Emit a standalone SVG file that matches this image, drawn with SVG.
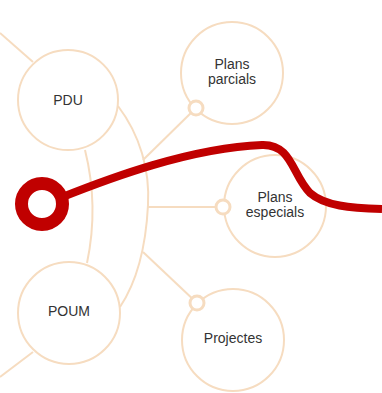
<svg xmlns="http://www.w3.org/2000/svg" width="382" height="393" viewBox="0 0 382 393">
<style>
.c{fill:#fff;stroke:#f6dcc0;stroke-width:2}
.s{fill:#fff;stroke:#f6dcc0;stroke-width:3}
.l{fill:none;stroke:#f6dcc0;stroke-width:2}
.t{font-family:"Liberation Sans",Arial,sans-serif;font-size:14px;fill:#333;text-anchor:middle}
</style>
<rect width="382" height="393" fill="#fff"/>
<g id="connectors">
<path class="l" d="M0,33 L33,62"/>
<path class="l" d="M0,377 L33,352"/>
<path class="l" d="M85,150 Q99,206 87,263"/>
<path class="l" d="M118,106 C140,135 150,170 148,205 C146,245 138,280 120,307"/>
<path class="l" d="M143,160 L196,108"/>
<path class="l" d="M148,207 L223,207"/>
<path class="l" d="M143,252 L197,303"/>
</g>
<g id="pdu"><circle class="c" cx="68" cy="100" r="50"/><text class="t" x="68" y="105">PDU</text></g>
<g id="poum"><circle class="c" cx="69" cy="313" r="51"/><text class="t" x="69" y="316">POUM</text></g>
<g id="parcials"><circle class="c" cx="232" cy="73" r="51"/><circle class="s" cx="196" cy="108" r="7"/><text class="t" x="232" y="69">Plans</text><text class="t" x="232" y="84">parcials</text></g>
<g id="especials"><circle class="c" cx="275" cy="206" r="51"/><circle class="s" cx="223" cy="207" r="7"/><text class="t" x="275" y="202">Plans</text><text class="t" x="275" y="217">especials</text></g>
<g id="projectes"><circle class="c" cx="233" cy="340" r="51"/><circle class="s" cx="197" cy="303" r="7"/><text class="t" x="233" y="343">Projectes</text></g>
<g id="red">
<path d="M60,198 C110,178 190,148 262,145 C292,144 292,175 310,193 C325,206 350,208 382,209" fill="none" stroke="#c00000" stroke-width="8"/>
<circle cx="42" cy="204" r="20.5" fill="none" stroke="#c00000" stroke-width="13"/>
</g>
</svg>
